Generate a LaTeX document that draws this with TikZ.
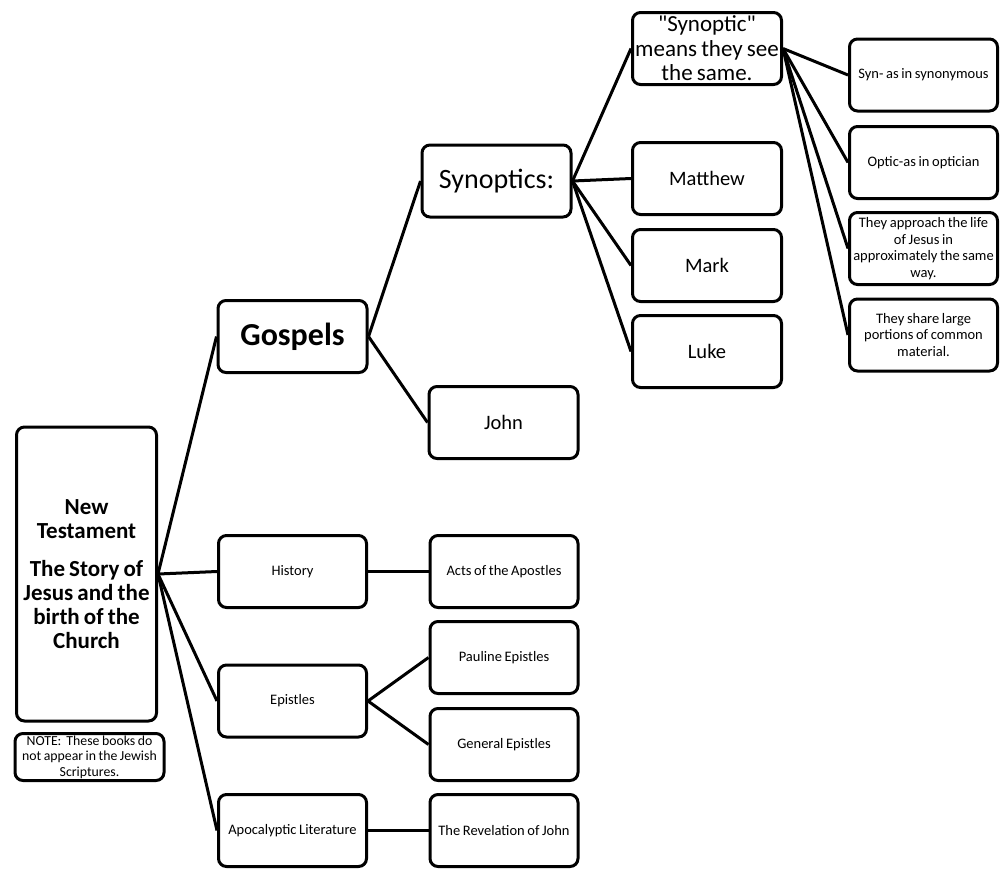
\documentclass[tikz,border=0pt]{standalone}
\usepackage{fontspec}
\setmainfont{Carlito}[WordSpace=0.8]
\usetikzlibrary{positioning}

\begin{document}
\begin{tikzpicture}[x=1pt, y=-1pt]
    \tikzstyle{bookbox} = [rectangle, rounded corners=8pt, draw=black, line width=3pt, fill=white, align=flush center, inner sep=1pt]
    \tikzstyle{small} = [bookbox, minimum width=148pt, minimum height=72pt, font=\fontsize{14.5}{16.5}\selectfont, text width=144pt]
    \tikzstyle{medium} = [bookbox, minimum width=149pt, minimum height=72pt, font=\fontsize{20.5}{24}\selectfont]
    \tikzstyle{link} = [line width=3pt]

    \useasboundingbox (0,0) rectangle (1000,871);

    % root and note
    \node (nt) [bookbox, minimum width=140pt, minimum height=294pt, text width=136pt, font=\bfseries\fontsize{23}{24}\selectfont] at (86.5,574) {New\\Testament\\[14pt]The Story of\\Jesus and the\\birth of the\\Church};
    \node (note) [bookbox, minimum width=149pt, minimum height=47pt, text width=147pt, font=\fontsize{13.8}{15.5}\selectfont] at (89.5,757) {NOTE:\ \ These books do\\not appear in the Jewish\\Scriptures.};

    % second level
    \node (gospels) [medium, font=\bfseries\fontsize{32}{36}\selectfont] at (292.5,336.5) {Gospels};
    \node (history) [small] at (292.5,571.5) {History};
    \node (epistles) [small] at (292.5,701) {Epistles};
    \node (apoc) [small] at (292.5,830.5) {Apocalyptic Literature};

    % third level
    \node (synoptics) [medium, font=\fontsize{28}{32}\selectfont] at (496.5,181) {Synoptics:};
    \node (john) [medium] at (503.5,422.5) {John};
    \node (acts) [small] at (504,571.5) {Acts of the Apostles};
    \node (pauline) [small] at (504,657.5) {Pauline Epistles};
    \node (general) [small] at (504,744.5) {General Epistles};
    \node (rev) [small] at (504,830.5) {The Revelation of John};

    % fourth level
    \node (meaning) [medium, text width=146pt, font=\fontsize{23}{24.5}\selectfont] at (707,48.5) {\textquotedbl Synoptic\textquotedbl\\means they see\\the same.};
    \node (matthew) [medium] at (707,178.5) {Matthew};
    \node (mark) [medium] at (707,265.5) {Mark};
    \node (luke) [medium] at (707,351.5) {Luke};

    % fifth level
    \node (syn) [small] at (923.5,75) {Syn- as in synonymous};
    \node (optic) [small] at (923.5,162.5) {Optic-as in optician};
    \node (approach) [small] at (923.5,248.5) {They approach the life\\of Jesus in\\approximately the same\\way.};
    \node (share) [small] at (923.5,335) {They share large\\portions of common\\material.};

    \draw [link] (nt.east) -- (gospels.west);
    \draw [link] (nt.east) -- (history.west);
    \draw [link] (nt.east) -- (epistles.west);
    \draw [link] (nt.east) -- (apoc.west);
    \draw [link] (gospels.east) -- (synoptics.west);
    \draw [link] (gospels.east) -- (john.west);
    \draw [link] (synoptics.east) -- (meaning.west);
    \draw [link] (synoptics.east) -- (matthew.west);
    \draw [link] (synoptics.east) -- (mark.west);
    \draw [link] (synoptics.east) -- (luke.west);
    \draw [link] (meaning.east) -- (syn.west);
    \draw [link] (meaning.east) -- (optic.west);
    \draw [link] (meaning.east) -- (approach.west);
    \draw [link] (meaning.east) -- (share.west);
    \draw [link] (history.east) -- (acts.west);
    \draw [link] (epistles.east) -- (pauline.west);
    \draw [link] (epistles.east) -- (general.west);
    \draw [link] (apoc.east) -- (rev.west);
\end{tikzpicture}
\end{document}
